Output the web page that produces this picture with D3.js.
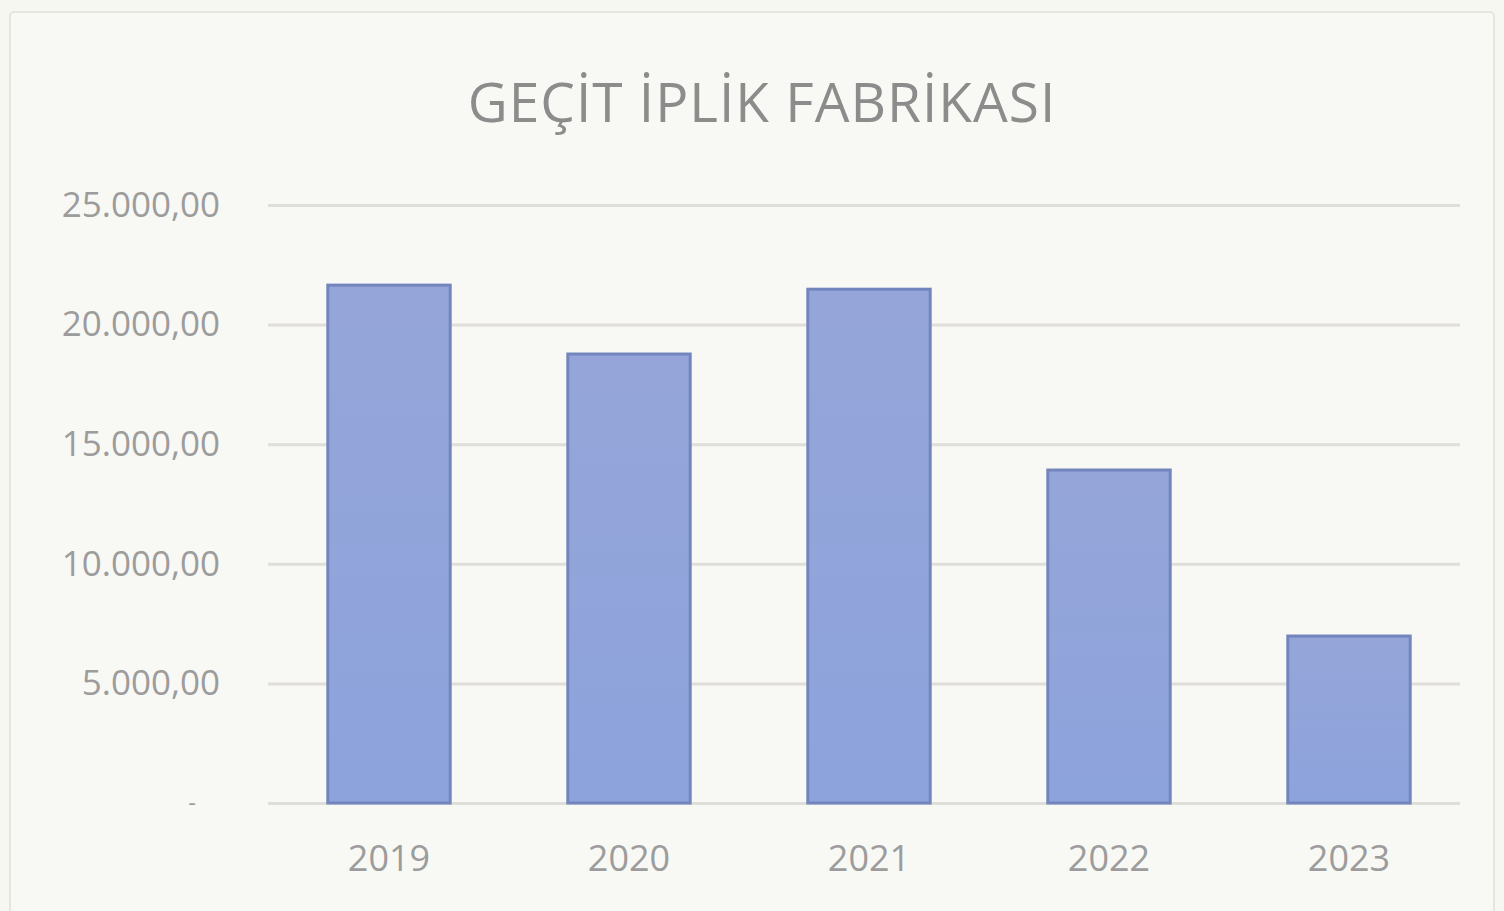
<!DOCTYPE html>
<html><head><meta charset="utf-8">
<script src="https://cdn.jsdelivr.net/npm/d3@7"></script>
<style>
html,body{margin:0;padding:0;background:#f7f7f2;}
svg{display:block;}
</style></head>
<body>
<svg id="chart" width="1504" height="911"></svg>
<script>
const title = "GEÇİT İPLİK FABRİKASI";
const categories = ["2019","2020","2021","2022","2023"];
const values = [21650, 18770, 21480, 13920, 6980];
const yTicks = [0, 5000, 10000, 15000, 20000, 25000];
const yTickLabels = ["-", "5.000,00", "10.000,00", "15.000,00", "20.000,00", "25.000,00"];

const W = 1504, H = 911;
const plotLeft = 268, plotRight = 1460, plotTop = 205, plotBottom = 803;
const svg = d3.select("#chart");
const FONT = "'Open Sans', 'Liberation Sans', sans-serif";

svg.append("rect").attr("x", 0).attr("y", 0).attr("width", W).attr("height", H).attr("fill", "#f7f7f2");
svg.append("rect").attr("x", 10).attr("y", 12).attr("width", W - 20).attr("height", H - 6)
  .attr("fill", "#f8f8f4").attr("stroke", "#e6e6e1").attr("stroke-width", 2).attr("rx", 4);

const x = d3.scaleBand().domain(categories).range([269, 1469]).paddingInner(0.49).paddingOuter(0.245);
const y = d3.scaleLinear().domain([0, 25000]).range([plotBottom, plotTop]);

// gridlines + y labels
const yAxis = d3.axisLeft(y).tickValues(yTicks)
  .tickSize(-(plotRight - plotLeft))
  .tickFormat((d, i) => yTickLabels[i]);
const gy = svg.append("g").attr("transform", `translate(${plotLeft},0)`).call(yAxis);
gy.select(".domain").remove();
gy.selectAll(".tick line").attr("stroke", "#dfded9").attr("stroke-width", 3);
gy.selectAll(".tick text").attr("x", -48).attr("fill", "#9c9c9c")
  .style("font-family", FONT).style("font-size", "35px").style("letter-spacing", "0px")
  .attr("dy", "0.32em");
gy.selectAll(".tick").filter(d => d === 0).select("text").attr("x", -72).style("font-size", "24px");

// bars
const grad = svg.append("defs").append("linearGradient").attr("id", "bg").attr("x1", 0).attr("x2", 0).attr("y1", 0).attr("y2", 1);
grad.append("stop").attr("offset", "0%").attr("stop-color", "#95a5d9");
grad.append("stop").attr("offset", "100%").attr("stop-color", "#8da3dc");

svg.append("g").selectAll("rect").data(values).join("rect")
  .attr("x", (d, i) => x(categories[i]))
  .attr("y", d => y(d))
  .attr("width", x.bandwidth())
  .attr("height", d => y(0) - y(d))
  .attr("fill", "url(#bg)")
  .attr("stroke", "#7385bd").attr("stroke-width", 3);

// x axis labels
const xAxis = d3.axisBottom(x).tickSize(0).tickPadding(42);
const gx = svg.append("g").attr("transform", `translate(0,${y(0)})`).call(xAxis);
gx.select(".domain").remove();
gx.selectAll(".tick text").attr("fill", "#9c9c9c")
  .style("font-family", FONT).style("font-size", "36px").style("letter-spacing", "0px");

// title
svg.append("text").attr("x", 762).attr("y", 122).attr("text-anchor", "middle")
  .attr("fill", "#8c8c8c")
  .style("font-family", FONT).style("font-size", "55px").style("letter-spacing", "1px")
  .text(title);
</script>
</body></html>
